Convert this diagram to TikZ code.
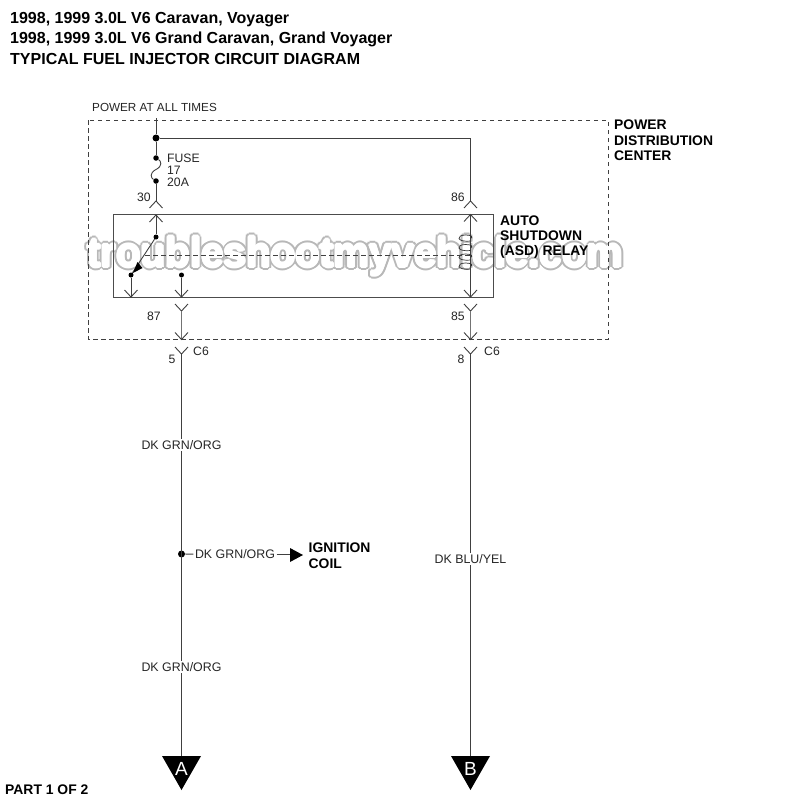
\documentclass[tikz,border=0pt]{standalone}
\usepackage{fontspec}
\usepackage{graphicx}
\setmainfont{Liberation Sans}
\tikzset{
  wire/.style={draw=black!75,line width=0.9pt},
  boxline/.style={draw=black!70,line width=0.9pt},
  dashline/.style={draw=black!75,line width=0.8pt,dash pattern=on 4.5pt off 3.5pt},
  dotnode/.style={circle,fill=black,inner sep=0pt,minimum size=#1},
  dotnode/.default=6pt,
  lab/.style={font=\fontsize{12.2}{14}\selectfont,inner sep=0pt,anchor=base west,text=black!85},
  wirelab/.style={font=\fontsize{12.4}{14}\selectfont,inner sep=1.5pt,fill=white,text=black!85},
  blab/.style={font=\fontsize{13.9}{16}\bfseries\selectfont,inner sep=0pt,anchor=base west,text=black},
  tlab/.style={font=\fontsize{16}{19}\bfseries\selectfont,inner sep=0pt,anchor=base west,text=black},
  tri/.style={fill=black,draw=none},
  wm/.style={font=\fontsize{42}{50}\bfseries\selectfont,inner sep=0pt,anchor=base west}
}
\newcommand{\chevup}[1]{\draw[wire,shift={(#1)}] (-6.5,7) -- (0,0) -- (6.5,7);}
\newcommand{\chevdn}[1]{\draw[wire,shift={(#1)}] (-6.5,-7) -- (0,0) -- (6.5,-7);}
\newcommand{\wmtext}{\scalebox{0.96}[1]{troubleshootmyvehicle.com}}
\begin{document}
\begin{tikzpicture}[x=1pt,y=-1pt]
\useasboundingbox (0,0) rectangle (800,800);
\fill[white] (0,0) rectangle (800,800);
% watermark
\foreach \a in {0,30,...,330}{
  \node[wm,text=black!28] at ([shift={(\a:3.2)}]87,267) {\wmtext};
}
\foreach \a in {0,45,...,315}{
  \node[wm,text=white] at ([shift={(\a:1.2)}]87,267) {\wmtext};
}
\node[wm,text=white] (wmark) at (87,267) {\wmtext};

% boxes
\draw[dashline] (88,120) rectangle (608,339);
\draw[boxline] (113,214) rectangle (493.5,297);

% titles
\node[tlab] (t1) at (10,24) {1998, 1999 3.0L V6 Caravan, Voyager};
\node[tlab] (t2) at (10,44) {1998, 1999 3.0L V6 Grand Caravan, Grand Voyager};
\node[tlab] (t3) at (10,64) {TYPICAL FUEL INJECTOR CIRCUIT DIAGRAM};
\node[lab,font=\fontsize{11.7}{14}\selectfont] (pwr) at (92,111) {POWER AT ALL TIMES};
\node[blab] (part) at (5,794) {PART 1 OF 2};

% coordinates
\coordinate (top) at (156,118);
\node[dotnode=7pt] (j1) at (156,138) {};
\node[dotnode=5.5pt] (f1) at (156,158) {};
\node[dotnode=5.5pt] (f2) at (156,181) {};
\coordinate (c30a) at (156,201);
\coordinate (c30b) at (156,215);
\node[dotnode=5pt] (sw) at (156,237) {};
\node[dotnode=5pt] (sl) at (131,275) {};
\node[dotnode=5pt] (sr) at (181.5,275) {};
\coordinate (cl1) at (131,297);
\coordinate (cl2) at (181.5,297);
\coordinate (c87a) at (181.5,311);
\coordinate (c87b) at (181.5,339.5);
\coordinate (c5) at (181.5,354);
\coordinate (wA) at (181.5,756);
\node[dotnode=7pt] (j2) at (181.5,554) {};
\coordinate (cr) at (470.5,138);
\coordinate (c86a) at (470.5,201);
\coordinate (c86b) at (470.5,214.5);
\coordinate (c85i) at (470.5,297);
\coordinate (c85a) at (470.5,311);
\coordinate (c85b) at (470.5,339.5);
\coordinate (c8) at (470.5,354);
\coordinate (wB) at (470.5,756);

% wires
\draw[wire] (top) -- (j1) -- (f1);
\draw[wire] (j1) -- (cr) -- (c86a);
\draw[wire] (f1) .. controls (161,161) and (163,166) .. (156,169.5) .. controls (149,173) and (151,178) .. (f2);
\draw[wire] (f2) -- (c30a);
\chevup{c30a}
\chevup{c30b}
\draw[wire] (c30b) -- (sw);
\draw[wire] (sw) -- (sl);
\fill[black] (133,273) -- (137.5,262) -- (142.5,268) -- cycle;
\draw[wire] (sl) -- (cl1);
\draw[wire] (sr) -- (cl2);
\chevdn{cl1}
\chevdn{cl2}
\chevdn{c87a}
\draw[wire,draw=black!55] (c87a) -- (c87b);
\chevdn{c87b}
\chevdn{c5}
\draw[wire] (c5) -- (wA);
\draw[wire] (c86b) -- (c85i);
\chevup{c86a}
\chevup{c86b}
\chevdn{c85i}
\chevdn{c85a}
\draw[wire,draw=black!55] (c85a) -- (c85b);
\chevdn{c85b}
\chevdn{c8}
\draw[wire] (c8) -- (wB);

% mechanical link and coil
\draw[dashline,line width=0.7pt] (145,255) -- (470.5,255);
\foreach \y in {238,247.5,257,266}{
  \draw[draw=black!80,line width=0.7pt] (470.5,\y+3) .. controls (456,\y+4.5) and (456,\y-3) .. (465.5,\y-3)
     .. controls (472,\y-3) and (473,\y-1) .. (470.5,\y+0.5);
}

% triangles
\fill[tri] (162,756) -- (201,756) -- (181.5,790) -- cycle;
\fill[tri] (451,756) -- (490,756) -- (470.5,790) -- cycle;
\node[font=\fontsize{19}{22}\selectfont,text=white,inner sep=0pt] (A) at (181.5,769) {A};
\node[font=\fontsize{19}{22}\selectfont,text=white,inner sep=0pt] (B) at (470.5,769) {B};

% ignition branch
\node[wirelab] (lg2) at (235,554.5) {DK GRN/ORG};
\coordinate (arr) at (291,554.5);
\draw[wire] (j2) -- (lg2);
\draw[wire] (lg2) -- (arr);
\fill[black] (290,548) -- (303,555) -- (290,562) -- cycle;
\node[blab] (ign) at (308.5,552.5) {IGNITION};
\node[blab] (coil) at (308.5,568) {COIL};

% wire labels
\node[wirelab] (lg1) at (181.5,445) {DK GRN/ORG};
\node[wirelab] (lg3) at (181.5,667) {DK GRN/ORG};
\node[wirelab] (lb1) at (470.5,559) {DK BLU/YEL};

% small labels
\node[lab] (fuse) at (167,162) {FUSE};
\node[lab] (f17) at (167,174) {17};
\node[lab] (f20) at (167,186) {20A};
\node[lab] (n30) at (137,201) {30};
\node[lab] (n86) at (451,201) {86};
\node[lab] (n87) at (147,320) {87};
\node[lab] (n85) at (451,320) {85};
\node[lab] (cc1) at (193,355) {C6};
\node[lab] (cc2) at (484,355) {C6};
\node[lab] (n5) at (168.5,363) {5};
\node[lab] (n8) at (457.5,363) {8};

% bold labels
\node[blab] (r1) at (500,225) {AUTO};
\node[blab] (r2) at (500,240) {SHUTDOWN};
\node[blab] (r3) at (500,255) {(ASD) RELAY};
\node[blab] (p1) at (614,129.5) {POWER};
\node[blab] (p2) at (614,145) {DISTRIBUTION};
\node[blab] (p3) at (614,160) {CENTER};
\end{tikzpicture}
\end{document}
